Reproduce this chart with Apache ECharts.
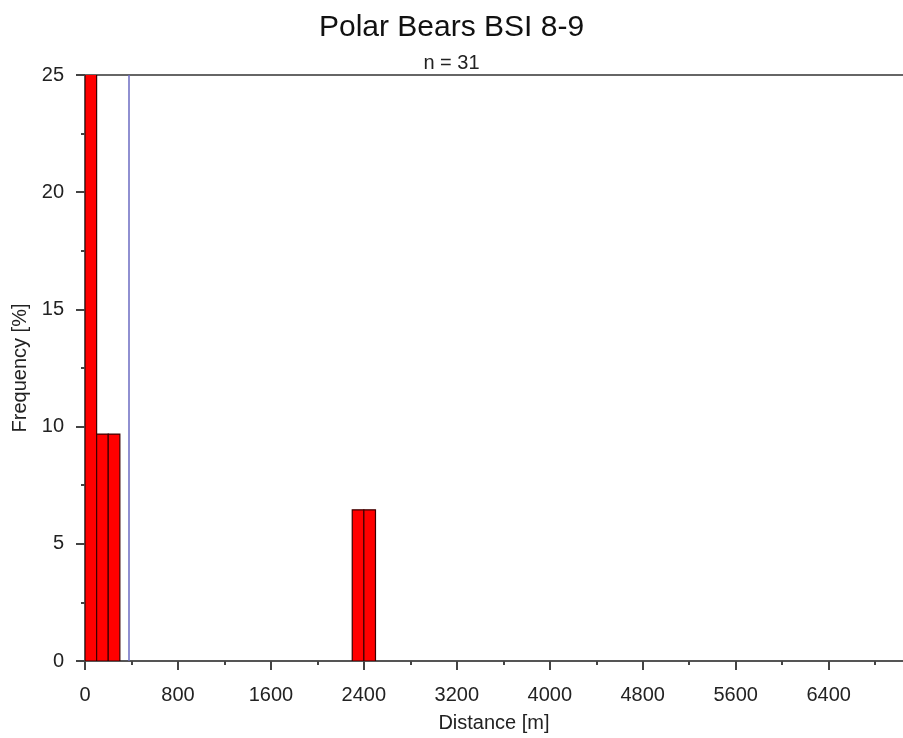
<!DOCTYPE html>
<html>
<head>
<meta charset="utf-8">
<script src="https://cdn.jsdelivr.net/npm/echarts@6/dist/echarts.min.js"></script>
<style>html,body{margin:0;padding:0;background:#fff;}#c{width:903px;height:738px;}</style>
</head>
<body>
<div id="c"></div>
<script>
// Histogram bins (m) and frequencies (%), n = 31
const binStart = [0, 100, 200, 2300, 2400];
const binEnd = [100, 200, 300, 2400, 2500];
const frequency = [67.74, 9.68, 9.68, 6.45, 6.45];
const meanDistance = 375;
const xMax = 7040;
const xMajorTicks = [0, 800, 1600, 2400, 3200, 4000, 4800, 5600, 6400];
const xMinorTicks = [400, 1200, 2000, 2800, 3600, 4400, 5200, 6000, 6800];
const titleText = 'Polar Bears BSI 8-9';
const subText = 'n = 31';
const xName = 'Distance [m]';
const yName = 'Frequency [%]';

const data = binStart.map((s, i) => [s, binEnd[i], frequency[i]]);
const font = 'Liberation Sans, Arial, sans-serif';
const tickColor = '#444';

const chart = echarts.init(document.getElementById('c'), null, {renderer: 'canvas'});
chart.setOption({
  backgroundColor: '#fff',
  animation: false,
  title: [
    {text: titleText, left: 'center', top: 8,
     textStyle: {fontFamily: font, fontSize: 30, fontWeight: 'normal', color: '#111'}},
    {text: subText, left: 'center', top: 48,
     textStyle: {fontFamily: font, fontSize: 20, fontWeight: 'normal', color: '#222'}}
  ],
  grid: {left: 85, top: 75, bottom: 76, right: 0, show: false},
  xAxis: [
    {
      type: 'value', position: 'bottom', min: 0, max: xMax, interval: 800,
      name: xName, nameLocation: 'middle', nameGap: 52,
      nameTextStyle: {fontFamily: font, fontSize: 20, color: '#222'},
      axisLine: {show: true, lineStyle: {color: '#555', width: 2}},
      axisTick: {show: true, length: 9, customValues: xMajorTicks,
                 lineStyle: {color: tickColor, width: 2}},
      splitLine: {show: false},
      axisLabel: {fontFamily: font, fontSize: 20, color: '#222', margin: 24,
                  customValues: xMajorTicks, hideOverlap: false,
                  formatter: function (v) { return String(v); }}
    },
    {
      type: 'value', position: 'bottom', min: 0, max: xMax, interval: 400,
      axisLine: {show: false},
      axisTick: {show: true, length: 4, customValues: xMinorTicks,
                 lineStyle: {color: tickColor, width: 2}},
      splitLine: {show: false},
      axisLabel: {show: false}
    },
    {
      type: 'value', position: 'top', min: 0, max: xMax,
      axisLine: {show: true, lineStyle: {color: '#666', width: 2}},
      axisTick: {show: false}, splitLine: {show: false}, axisLabel: {show: false}
    }
  ],
  yAxis: {
    type: 'value', min: 0, max: 25, interval: 5,
    name: yName, nameLocation: 'middle', nameGap: 49, nameRotate: 90,
    nameTextStyle: {fontFamily: font, fontSize: 20, color: '#222'},
    axisLine: {show: true, lineStyle: {color: '#555', width: 2}},
    axisTick: {show: true, length: 9, lineStyle: {color: tickColor, width: 2}},
    minorTick: {show: true, splitNumber: 2, length: 4, lineStyle: {color: tickColor, width: 2}},
    splitLine: {show: false},
    axisLabel: {fontFamily: font, fontSize: 20, color: '#222', margin: 21}
  },
  series: [
    {
      type: 'custom',
      clip: true,
      xAxisIndex: 0,
      data: data,
      encode: {x: [0, 1], y: 2},
      renderItem: function (params, api) {
        const p0 = api.coord([api.value(0), 0]);
        const p1 = api.coord([api.value(1), api.value(2)]);
        return {
          type: 'rect',
          shape: {x: p0[0], y: p1[1], width: p1[0] - p0[0], height: p0[1] - p1[1]},
          style: {fill: '#ff0000', stroke: '#3a0000', lineWidth: 1.2}
        };
      },
      markLine: {
        silent: true, symbol: 'none', label: {show: false},
        lineStyle: {color: '#6b6bc2', width: 1.5, type: 'solid'},
        data: [{xAxis: meanDistance}]
      }
    }
  ]
});
</script>
</body>
</html>
